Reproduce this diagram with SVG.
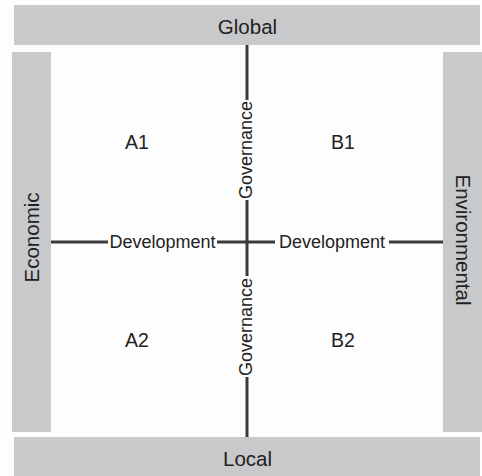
<svg xmlns="http://www.w3.org/2000/svg" width="482" height="476" viewBox="0 0 482 476">
<style>
.bar{fill:#c8c9cb}
.t{font-family:"Liberation Sans",Arial,sans-serif;fill:#222}
.big{font-size:20.5px}
.mid{font-size:18px}
.q{font-size:19.5px}
.ln{stroke:#3a3a3a;stroke-width:3;fill:none}
</style>
<rect width="482" height="476" fill="#fdfdfd"/>
<g id="global"><rect class="bar" x="14" y="5" width="466" height="40"/><text class="t big" x="247.5" y="33.5" text-anchor="middle">Global</text></g>
<g id="local"><rect class="bar" x="14" y="437" width="466" height="39"/><text class="t big" x="247.5" y="466" text-anchor="middle">Local</text></g>
<g id="economic"><rect class="bar" x="12" y="52" width="39" height="380"/><text class="t big" transform="translate(39,237.5) rotate(-90)" text-anchor="middle">Economic</text></g>
<g id="environmental"><rect class="bar" x="443" y="52" width="39" height="380"/><text class="t big" transform="translate(455.5,240) rotate(90)" text-anchor="middle">Environmental</text></g>
<g id="connectors">
<path class="ln" d="M247 45V100M247 200V276M247 377V437M51 242H108M217 242H275M389 242H443"/>
<text class="t mid" transform="translate(251.5,150) rotate(-90)" text-anchor="middle">Governance</text>
<text class="t mid" transform="translate(251.5,327) rotate(-90)" text-anchor="middle">Governance</text>
<text class="t mid" x="162.5" y="247.5" text-anchor="middle">Development</text>
<text class="t mid" x="332" y="247.5" text-anchor="middle">Development</text>
</g>
<g id="a1"><text class="t q" x="125" y="149">A1</text></g>
<g id="b1"><text class="t q" x="331" y="149">B1</text></g>
<g id="a2"><text class="t q" x="125" y="347">A2</text></g>
<g id="b2"><text class="t q" x="331" y="347">B2</text></g>
</svg>
